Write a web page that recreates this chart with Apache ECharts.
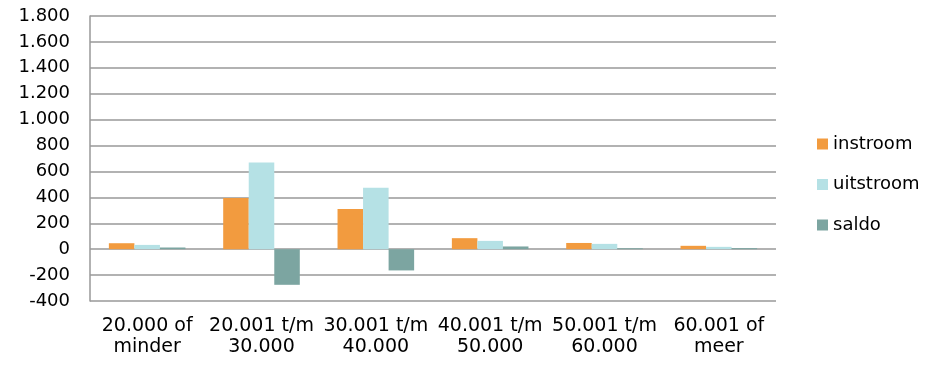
<!DOCTYPE html>
<html>
<head>
<meta charset="utf-8">
<script src="https://cdn.jsdelivr.net/npm/echarts@6/dist/echarts.min.js"></script>
<style>
  html, body { margin: 0; padding: 0; background: #ffffff; }
  #chart { width: 948px; height: 366px; }
</style>
</head>
<body>
<div id="chart"></div>
<script>
// Income brackets (euro) on the category axis
const categories = [
  '20.000 of\nminder',
  '20.001 t/m\n30.000',
  '30.001 t/m\n40.000',
  '40.001 t/m\n50.000',
  '50.001 t/m\n60.000',
  '60.001 of\nmeer'
];

// Inflow, outflow and balance per bracket
const instroom  = [46, 395, 310, 85, 48, 26];
const uitstroom = [33, 670, 474, 64, 41, 18];
const saldo     = [13, -275, -164, 21, 7, 8];

// Value axis range
const yMin = -400;
const yMax = 1800;
const yStep = 200;

const fontFamily = '"DejaVu Sans", Verdana, sans-serif';

// Dutch number formatting: dot as thousands separator
function nl(v) {
  const s = String(Math.abs(v)).replace(/\B(?=(\d{3})+(?!\d))/g, '.');
  return (v < 0 ? '-' : '') + s;
}

const chart = echarts.init(document.getElementById('chart'), null, { renderer: 'canvas' });

const barBase = { type: 'bar', barGap: '0%', barCategoryGap: '33%' };

chart.setOption({
  animation: false,
  backgroundColor: '#ffffff',
  textStyle: { fontFamily: fontFamily },
  grid: { left: 90, right: 172, top: 16, bottom: 65 },
  legend: {
    orient: 'vertical',
    left: 817,
    top: 134,
    padding: 0,
    itemWidth: 11,
    itemHeight: 11,
    itemGap: 20.5,
    icon: 'rect',
    textStyle: { fontSize: 18, lineHeight: 20, color: '#000000', fontFamily: fontFamily },
    data: ['instroom', 'uitstroom', 'saldo']
  },
  xAxis: {
    type: 'category',
    data: categories,
    axisLine: { show: false, onZero: false },
    axisTick: { show: false },
    axisLabel: {
      color: '#000000',
      fontSize: 19,
      lineHeight: 21,
      margin: 15,
      interval: 0,
      fontFamily: fontFamily
    }
  },
  yAxis: {
    type: 'value',
    min: yMin,
    max: yMax,
    interval: yStep,
    axisLine: { show: true, lineStyle: { color: '#999999', width: 1.5 } },
    axisTick: { show: false },
    splitLine: { show: true, lineStyle: { color: '#999999', width: 1.5 } },
    axisLabel: {
      color: '#000000',
      fontSize: 18,
      margin: 20,
      fontFamily: fontFamily,
      formatter: nl
    }
  },
  series: [
    Object.assign({}, barBase, { name: 'instroom',  data: instroom,  itemStyle: { color: '#F29B3F' } }),
    Object.assign({}, barBase, { name: 'uitstroom', data: uitstroom, itemStyle: { color: '#B5E1E5' } }),
    Object.assign({}, barBase, { name: 'saldo',     data: saldo,     itemStyle: { color: '#7CA5A1' } })
  ]
});
</script>
</body>
</html>
